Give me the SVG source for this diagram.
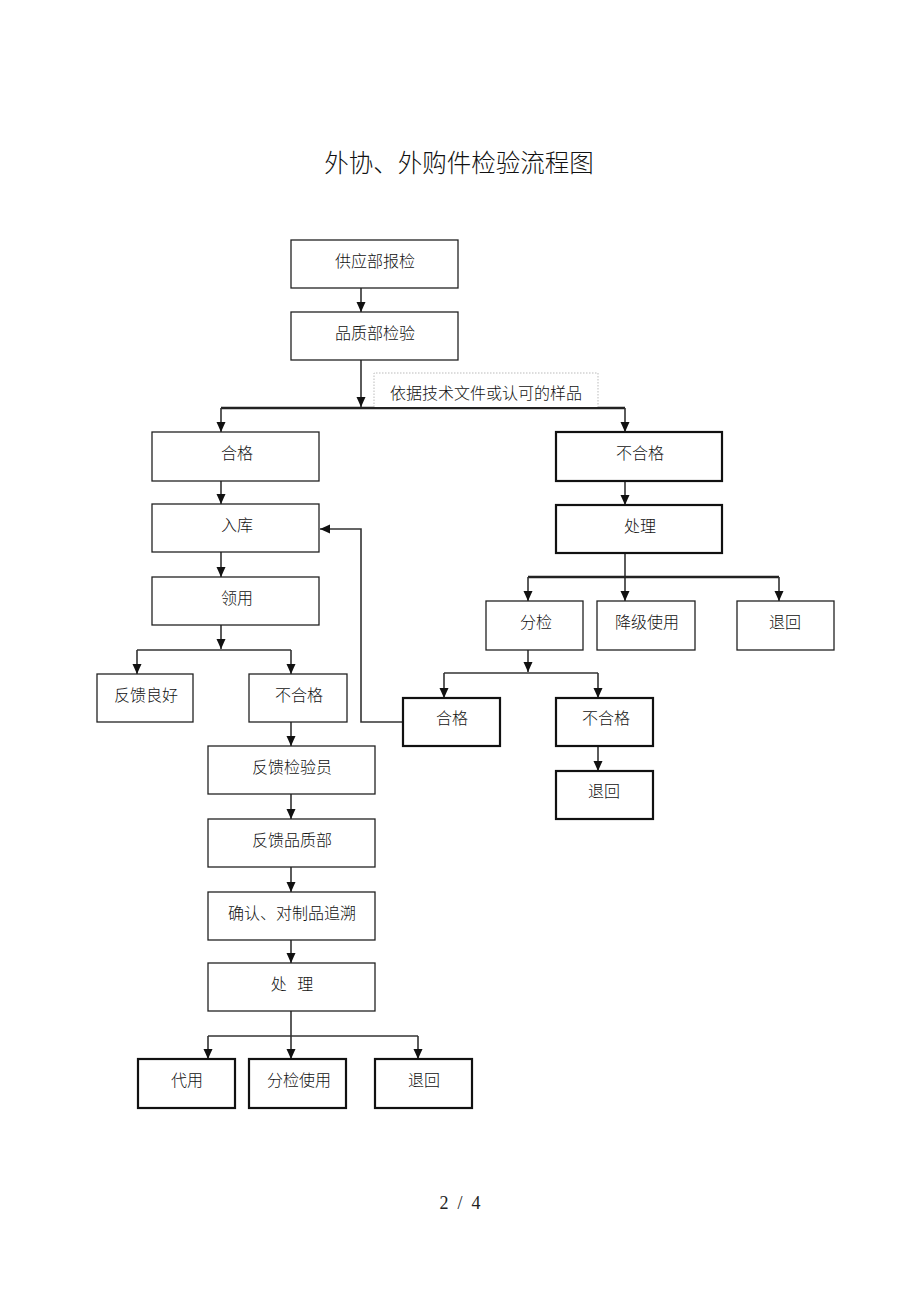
<svg xmlns="http://www.w3.org/2000/svg" width="920" height="1302" viewBox="0 0 920 1302">
<style>
.box{fill:#fff;stroke:#222;stroke-width:1.3}
.thick{fill:#fff;stroke:#111;stroke-width:2.2}
.lbl{fill:#fff;stroke:#bbb;stroke-width:1;stroke-dasharray:1.5 1.5}
.t{font-family:"Noto Sans CJK SC","Noto Sans",sans-serif;font-size:16px;font-weight:300;fill:#111;text-anchor:middle}
.c{fill:none;stroke:#333;stroke-width:1.6}
.cb{fill:none;stroke:#222;stroke-width:2.6}
</style>
<defs>
<marker id="ah" viewBox="0 0 10 10" refX="10" refY="5" markerWidth="11" markerHeight="10" markerUnits="userSpaceOnUse" orient="auto">
<path d="M0,0.5 L10,5 L0,9.5 z" fill="#111"/>
</marker>
</defs>
<rect width="920" height="1302" fill="#fff"/>
<text x="459" y="172" font-family="'Noto Sans CJK SC',sans-serif" font-size="24.5" font-weight="300" fill="#111" text-anchor="middle">外协、外购件检验流程图</text>

<g id="connectors">
<line class="c" x1="361" y1="288" x2="361" y2="312" marker-end="url(#ah)"/>
<line class="c" x1="361" y1="360" x2="361" y2="407" marker-end="url(#ah)"/>
<line class="cb" x1="221" y1="408" x2="625" y2="408"/>
<line class="c" x1="221" y1="408" x2="221" y2="432" marker-end="url(#ah)"/>
<line class="c" x1="625" y1="408" x2="625" y2="432" marker-end="url(#ah)"/>
<line class="c" x1="221" y1="481" x2="221" y2="504" marker-end="url(#ah)"/>
<line class="c" x1="221" y1="552" x2="221" y2="577" marker-end="url(#ah)"/>
<line class="c" x1="221" y1="625" x2="221" y2="649" marker-end="url(#ah)"/>
<line class="c" x1="137" y1="650" x2="291" y2="650"/>
<line class="c" x1="137" y1="650" x2="137" y2="674" marker-end="url(#ah)"/>
<line class="c" x1="291" y1="650" x2="291" y2="674" marker-end="url(#ah)"/>
<line class="c" x1="291" y1="722" x2="291" y2="746" marker-end="url(#ah)"/>
<line class="c" x1="291" y1="794" x2="291" y2="819" marker-end="url(#ah)"/>
<line class="c" x1="291" y1="867" x2="291" y2="892" marker-end="url(#ah)"/>
<line class="c" x1="291" y1="940" x2="291" y2="963" marker-end="url(#ah)"/>
<line class="c" x1="291" y1="1011" x2="291" y2="1059" marker-end="url(#ah)"/>
<line class="c" x1="208" y1="1036" x2="418" y2="1036"/>
<line class="c" x1="208" y1="1036" x2="208" y2="1059" marker-end="url(#ah)"/>
<line class="c" x1="418" y1="1036" x2="418" y2="1059" marker-end="url(#ah)"/>
<line class="c" x1="625" y1="481" x2="625" y2="505" marker-end="url(#ah)"/>
<line class="c" x1="625" y1="553" x2="625" y2="601" marker-end="url(#ah)"/>
<line class="cb" x1="528" y1="577" x2="779" y2="577"/>
<line class="c" x1="528" y1="577" x2="528" y2="601" marker-end="url(#ah)"/>
<line class="c" x1="779" y1="577" x2="779" y2="601" marker-end="url(#ah)"/>
<line class="c" x1="528" y1="650" x2="528" y2="672" marker-end="url(#ah)"/>
<line class="c" x1="444" y1="673" x2="598" y2="673"/>
<line class="c" x1="444" y1="673" x2="444" y2="698" marker-end="url(#ah)"/>
<line class="c" x1="598" y1="673" x2="598" y2="698" marker-end="url(#ah)"/>
<line class="c" x1="598" y1="746" x2="598" y2="771" marker-end="url(#ah)"/>
<path class="c" d="M403,722 H361 V529 H320" marker-end="url(#ah)"/>
</g>

<g id="label-basis"><path class="lbl" d="M374,407 V373 H598 V407"/><text class="t" x="486" y="399">依据技术文件或认可的样品</text></g>

<g id="n-supply"><rect class="box" x="291" y="240" width="167" height="48"/><text class="t" x="375" y="267">供应部报检</text></g>
<g id="n-qc"><rect class="box" x="291" y="312" width="167" height="48"/><text class="t" x="375" y="339">品质部检验</text></g>
<g id="n-pass"><rect class="box" x="152" y="432" width="167" height="49"/><text class="t" x="237" y="459">合格</text></g>
<g id="n-store"><rect class="box" x="152" y="504" width="167" height="48"/><text class="t" x="237" y="531">入库</text></g>
<g id="n-take"><rect class="box" x="152" y="577" width="167" height="48"/><text class="t" x="237" y="604">领用</text></g>
<g id="n-good"><rect class="box" x="97" y="674" width="96" height="48"/><text class="t" x="146" y="701">反馈良好</text></g>
<g id="n-bad2"><rect class="box" x="249" y="674" width="98" height="48"/><text class="t" x="299" y="701">不合格</text></g>
<g id="n-fb1"><rect class="box" x="208" y="746" width="167" height="48"/><text class="t" x="292" y="773">反馈检验员</text></g>
<g id="n-fb2"><rect class="box" x="208" y="819" width="167" height="48"/><text class="t" x="292" y="846">反馈品质部</text></g>
<g id="n-trace"><rect class="box" x="208" y="892" width="167" height="48"/><text class="t" x="292" y="919">确认、对制品追溯</text></g>
<g id="n-handle2"><rect class="box" x="208" y="963" width="167" height="48"/><text class="t" x="292" y="990" xml:space="preserve">处   理</text></g>
<g id="n-sub"><rect class="thick" x="138" y="1059" width="97" height="49"/><text class="t" x="187" y="1086">代用</text></g>
<g id="n-sortuse"><rect class="thick" x="249" y="1059" width="97" height="49"/><text class="t" x="299" y="1086">分检使用</text></g>
<g id="n-return3"><rect class="thick" x="375" y="1059" width="97" height="49"/><text class="t" x="424" y="1086">退回</text></g>

<g id="n-fail"><rect class="thick" x="556" y="432" width="166" height="49"/><text class="t" x="640" y="459">不合格</text></g>
<g id="n-handle"><rect class="thick" x="556" y="505" width="166" height="48"/><text class="t" x="640" y="532">处理</text></g>
<g id="n-sort"><rect class="box" x="486" y="601" width="97" height="49"/><text class="t" x="536" y="628">分检</text></g>
<g id="n-degrade"><rect class="box" x="597" y="601" width="98" height="49"/><text class="t" x="647" y="628">降级使用</text></g>
<g id="n-return1"><rect class="box" x="737" y="601" width="97" height="49"/><text class="t" x="785" y="628">退回</text></g>
<g id="n-pass3"><rect class="thick" x="403" y="698" width="97" height="48"/><text class="t" x="452" y="724">合格</text></g>
<g id="n-fail3"><rect class="thick" x="556" y="698" width="97" height="48"/><text class="t" x="606" y="724">不合格</text></g>
<g id="n-return2"><rect class="thick" x="556" y="771" width="97" height="48"/><text class="t" x="604" y="797">退回</text></g>

<text x="460" y="1209" font-family="'Liberation Serif',serif" font-size="18" fill="#222" text-anchor="middle" xml:space="preserve">2  /  4</text>
</svg>
